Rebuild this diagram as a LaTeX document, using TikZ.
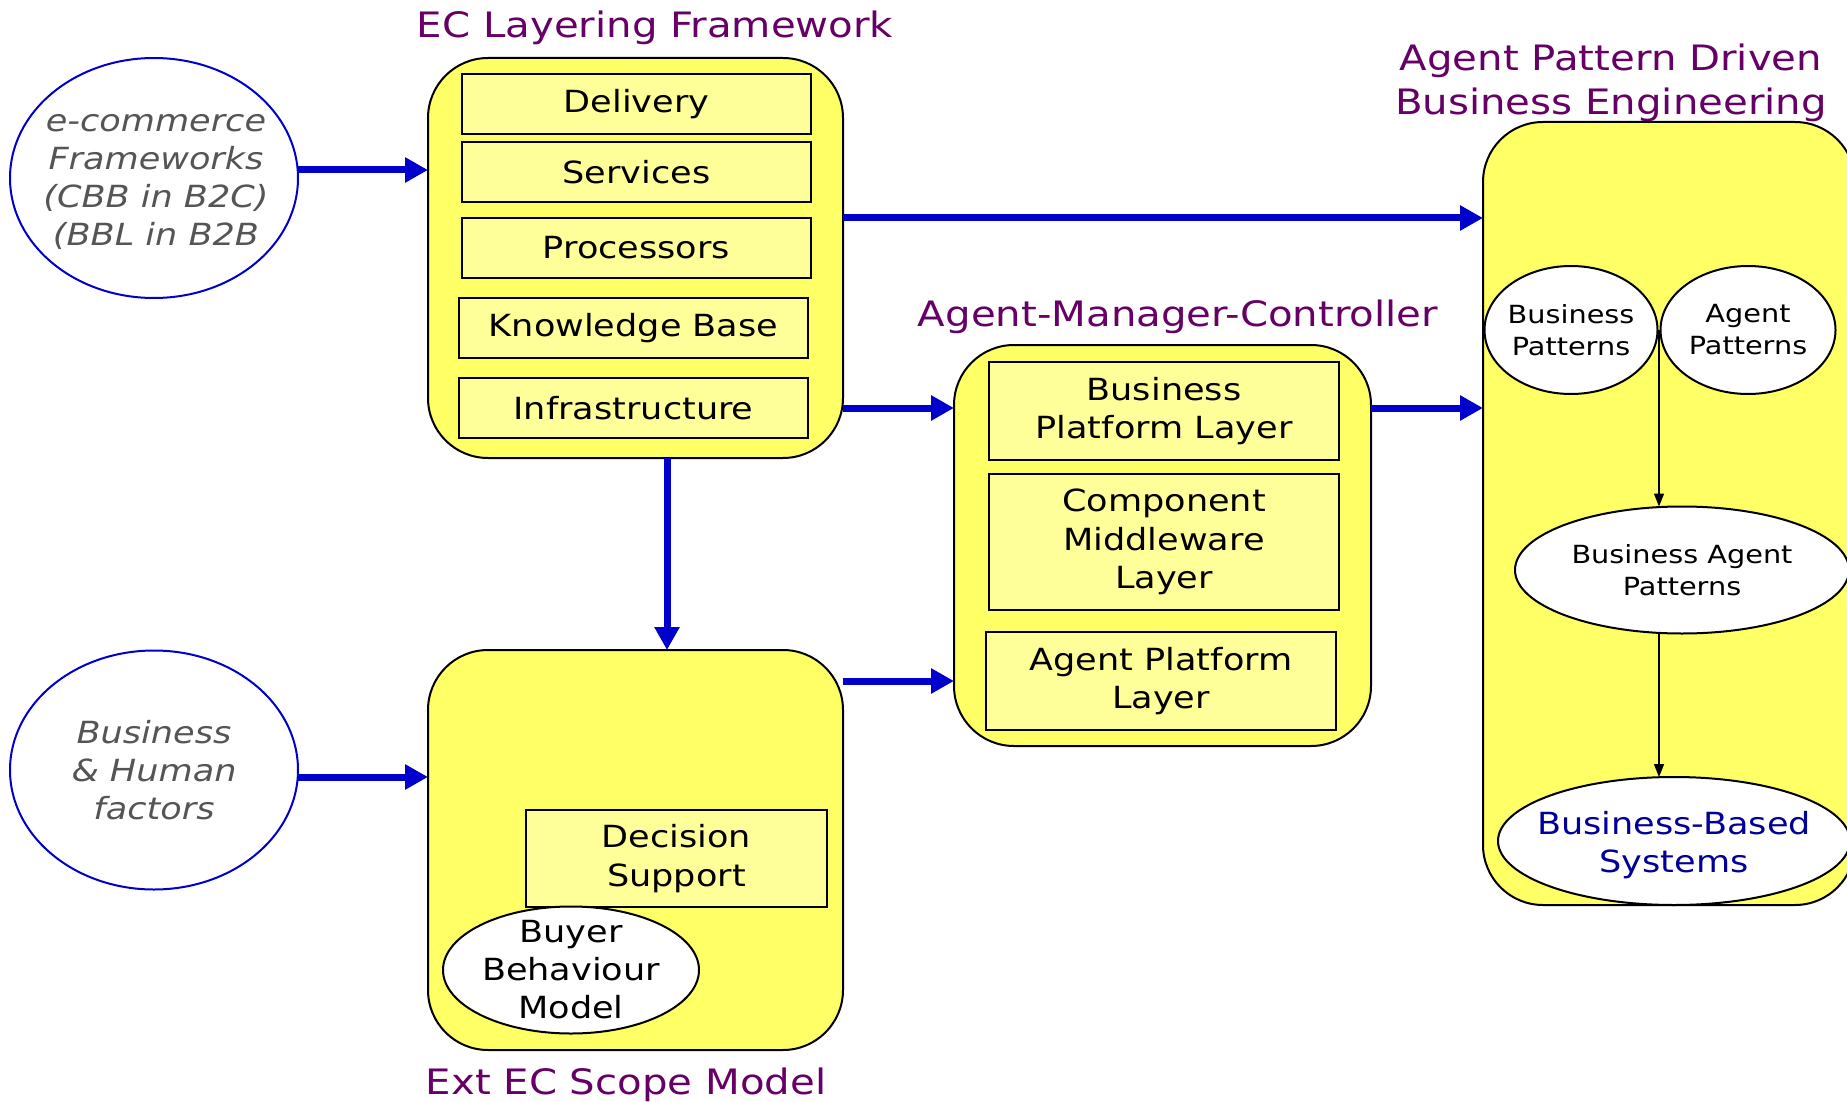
\documentclass[tikz,border=0pt]{standalone}
\usepackage{fontspec}
\setmainfont{DejaVu Sans}[FakeStretch=1.15]
\usetikzlibrary{arrows.meta,shapes.geometric}
\definecolor{boxyellow}{HTML}{FFFF66}
\definecolor{layeryellow}{HTML}{FFFF99}
\definecolor{flowblue}{HTML}{0000CC}
\definecolor{titlepurple}{HTML}{660066}
\definecolor{notegray}{HTML}{555555}
\definecolor{sysblue}{HTML}{000099}

\tikzset{
  panel/.style={draw=black, line width=2pt, fill=boxyellow, rounded corners=60pt,
    inner sep=0pt, outer sep=0pt},
  layerbox/.style={draw=black, line width=2.5pt, fill=layeryellow, inner sep=0pt,
    outer sep=0pt, align=center, font=\fontsize{30.5}{38.5}\selectfont},
  sourcenode/.style={ellipse, draw=flowblue, line width=2pt, fill=white, inner sep=0pt,
    outer sep=0pt},
  sourcetext/.style={align=center, inner sep=0pt, text=notegray,
    font=\fontsize{30.5}{38.2}\selectfont\itshape},
  patnode/.style={ellipse, draw=black, line width=2pt, fill=white, inner sep=-40pt,
    outer sep=0pt, align=center, font=\fontsize{25}{32}\selectfont},
  heading/.style={text=titlepurple, align=center, inner sep=0pt,
    font=\fontsize{35}{44}\selectfont},
  flowarrow/.style={draw=flowblue, line width=7pt, -{Triangle[length=23pt,width=24pt]}},
  linkarrow/.style={draw=black, line width=1.5pt, -{Triangle[length=13pt,width=10pt]}},
}

\begin{document}
\begin{tikzpicture}[x=1pt,y=-1pt]
\useasboundingbox (0,0) rectangle (1847,1102);
\clip (0,0) rectangle (1847,1102);

% titles
\node[heading] (ectitle) at (655,28) {EC Layering Framework};
\node[heading] (amctitle) at (1178,317) {Agent-Manager-Controller};
\node[heading] (apdtitle) at (1611,83) {Agent Pattern Driven\\Business Engineering};
\node[heading] (exttitle) at (626,1085) {Ext EC Scope Model};

% outer panels
\node[panel, minimum width=415pt, minimum height=400pt] (ecbox) at (635.5,258) {};
\node[panel, minimum width=417pt, minimum height=401pt] (amc) at (1162.5,545.5) {};
\node[panel, minimum width=415pt, minimum height=400pt] (extbox) at (635.5,850) {};
\node[panel, minimum width=372pt, minimum height=783pt] (apd) at (1669,513.5) {};

% EC layering stack
\node[layerbox, minimum width=349pt, minimum height=60pt] (delivery) at (636.5,104) {Delivery};
\node[layerbox, minimum width=349pt, minimum height=60pt] (services) at (636.5,172) {Services};
\node[layerbox, minimum width=349pt, minimum height=60pt] (processors) at (636.5,248) {Processors};
\node[layerbox, minimum width=349pt, minimum height=60pt] (kb) at (633.5,328) {Knowledge Base};
\node[layerbox, minimum width=349pt, minimum height=60pt] (infra) at (633.5,408) {Infrastructure};

% agent-manager-controller layers
\node[layerbox, minimum width=350pt, minimum height=98pt] (bpl) at (1164,411) {Business\\Platform Layer};
\node[layerbox, minimum width=350pt, minimum height=136pt] (cml) at (1164,542) {Component\\Middleware\\Layer};
\node[layerbox, minimum width=350pt, minimum height=98pt] (apl) at (1161,681) {Agent Platform\\Layer};

% extended scope model contents
\node[layerbox, minimum width=301pt, minimum height=97pt] (ds) at (676.5,858.5) {Decision\\Support};
\node[patnode, minimum width=256pt, minimum height=127pt,
  font=\fontsize{30.5}{38}\selectfont] (bbm) at (571,970) {Buyer\\Behaviour\\Model};

% external inputs
\node[sourcenode, minimum width=288pt, minimum height=240pt] (ecom) at (154,178) {};
\node[sourcetext] (ecomtext) at ([xshift=2pt,yshift=-4pt]ecom.center)
  {e-commerce\\Frameworks\\(CBB in B2C)\\(BBL in B2B};
\node[sourcenode, minimum width=288pt, minimum height=239pt] (human) at (154,770) {};
\node[sourcetext] (humantext) at (human.center)
  {Business\\\& Human\\factors};

% pattern-driven engineering
\node[patnode, minimum width=334pt, minimum height=127pt] (bap) at (1682,570) {Business Agent\\Patterns};
\node[patnode, minimum width=352pt, minimum height=128pt] (bbs) at (1674,841) {};
\node[align=center, inner sep=0pt, text=sysblue, font=\fontsize{30.5}{38}\selectfont]
  (bbstext) at ([yshift=-4pt]bbs.center) {Business-Based\\Systems};
\coordinate (join) at (1659,330);
\draw[linkarrow] (join) -- (join |- bap.north);
\draw[linkarrow] (join |- bap.south) -- (join |- bbs.north);
\node[patnode, minimum width=173pt, minimum height=128pt] (bp) at (1571,330) {Business\\Patterns};
\node[patnode, minimum width=175pt, minimum height=128pt] (ap) at (1748,330) {Agent\\Patterns};

% flows between models
\draw[flowarrow] ([yshift=8pt]ecom.east) -- ([yshift=8pt]ecom.east -| ecbox.west);
\draw[flowarrow] ([yshift=-7pt]human.east) -- ([yshift=-7pt]human.east -| extbox.west);
\draw[flowarrow] ([yshift=40pt]ecbox.east) -- ([yshift=40pt]ecbox.east -| apd.west);
\draw[flowarrow] (ecbox.east |- infra) -- (amc.west |- infra);
\draw[flowarrow] (amc.east |- infra) -- (apd.west |- infra);
\draw[flowarrow] ([xshift=31.5pt]ecbox.south) -- ([xshift=31.5pt]extbox.north);
\draw[flowarrow] (extbox.east |- apl) -- (amc.west |- apl);
\end{tikzpicture}
\end{document}
